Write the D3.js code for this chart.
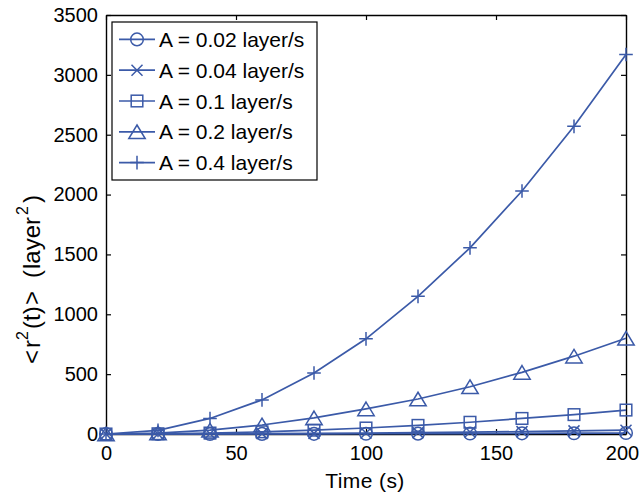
<!DOCTYPE html>
<html>
<head>
<meta charset="utf-8">
<script src="https://cdn.jsdelivr.net/npm/d3@7"></script>
<style>
  html, body { margin: 0; padding: 0; background: #fff; }
  svg { display: block; }
  text { font-family: "Liberation Sans", Arial, Helvetica, sans-serif; fill: #000; }
</style>
</head>
<body>
<svg id="chart" width="639" height="499"></svg>
<script>
// Sampling times (s)
const time = [0, 20, 40, 60, 80, 100, 120, 140, 160, 180, 200];

// Mean-square displacement <r^2(t)> (layer^2) for each advance rate A
const msdA002 = [0, 0.1, 0.3, 0.7, 1.3, 2, 2.9, 3.9, 5.1, 6.5, 8];
const msdA004 = [0, 0.3, 1.3, 3, 5, 8, 11.5, 16, 20, 26, 32];
const msdA01  = [0, 2, 8, 18, 32, 50, 72, 98, 130, 162, 200];
const msdA02  = [0, 8, 32, 75, 135, 210, 292, 395, 515, 650, 800];
const msdA04  = [0, 30, 130, 285, 510, 795, 1150, 1555, 2030, 2570, 3170];

const seriesNames = ["A = 0.02 layer/s", "A = 0.04 layer/s", "A = 0.1 layer/s", "A = 0.2 layer/s", "A = 0.4 layer/s"];
const seriesMarkers = ["circle", "x", "square", "triangle", "plus"];

const xTicks = [0, 50, 100, 150, 200];
const yTicks = [0, 500, 1000, 1500, 2000, 2500, 3000, 3500];

const series = [msdA002, msdA004, msdA01, msdA02, msdA04].map((vals, i) => ({
  name: seriesNames[i],
  marker: seriesMarkers[i],
  points: vals.map((v, j) => ({ t: time[j], v }))
}));

const color = "#3b5aa8";
const svg = d3.select("#chart");

const plotLeft = 106, plotRight = 626, plotTop = 15, plotBottom = 434;
const x = d3.scaleLinear().domain([0, 200]).range([plotLeft, plotRight]);
const y = d3.scaleLinear().domain([0, 3500]).range([plotBottom, plotTop]);

const fontSize = 20;

// Axes box with inward ticks on all four sides
const tickLen = 5;
const axisG = svg.append("g");
const fmt = d3.format("d");

const axBottom = d3.axisBottom(x).tickValues(xTicks).tickFormat(fmt).tickSize(-tickLen).tickSizeOuter(0).tickPadding(12);
const axTop = d3.axisTop(x).tickValues(xTicks).tickSize(-tickLen).tickSizeOuter(0).tickFormat("");
const axLeft = d3.axisLeft(y).tickValues(yTicks).tickFormat(fmt).tickSize(-tickLen).tickSizeOuter(0).tickPadding(8);
const axRight = d3.axisRight(y).tickValues(yTicks).tickSize(-tickLen).tickSizeOuter(0).tickFormat("");

function styleAxis(g) {
  g.selectAll(".domain").attr("stroke", "#000").attr("stroke-width", 1.4);
  g.selectAll(".tick line").attr("stroke", "#000").attr("stroke-width", 1.2);
  g.selectAll(".tick text").attr("font-size", fontSize)
    .attr("font-family", '"Liberation Sans", Arial, sans-serif').attr("fill", "#000");
}

const gx = axisG.append("g").attr("transform", `translate(0,${plotBottom})`).call(axBottom).call(styleAxis);
// keep the last x label inside the canvas
gx.selectAll(".tick text").filter(d => d === 200).attr("dx", -4);
axisG.append("g").attr("transform", `translate(0,${plotTop})`).call(axTop).call(styleAxis);
axisG.append("g").attr("transform", `translate(${plotLeft},0)`).call(axLeft).call(styleAxis);
axisG.append("g").attr("transform", `translate(${plotRight},0)`).call(axRight).call(styleAxis);

// Marker shapes, centred at origin
function drawMarker(g, type) {
  const sw = 1.5;
  if (type === "circle") {
    g.append("circle").attr("r", 6.3).attr("fill", "none").attr("stroke", color).attr("stroke-width", sw);
  } else if (type === "x") {
    const s = 5.5;
    g.append("path").attr("d", `M${-s},${-s}L${s},${s}M${-s},${s}L${s},${-s}`)
      .attr("stroke", color).attr("stroke-width", sw).attr("fill", "none");
  } else if (type === "square") {
    const s = 5.8;
    g.append("rect").attr("x", -s).attr("y", -s).attr("width", 2 * s).attr("height", 2 * s)
      .attr("fill", "none").attr("stroke", color).attr("stroke-width", sw);
  } else if (type === "triangle") {
    const w = 8.2, h = 6.8;
    g.append("path").attr("d", `M0,${-h}L${w},${h}L${-w},${h}Z`)
      .attr("fill", "none").attr("stroke", color).attr("stroke-width", sw);
  } else if (type === "plus") {
    const s = 6.8;
    g.append("path").attr("d", `M${-s},0L${s},0M0,${-s}L0,${s}`)
      .attr("stroke", color).attr("stroke-width", sw).attr("fill", "none");
  }
}

const line = d3.line().x(d => x(d.t)).y(d => y(d.v));
const plotG = svg.append("g");

series.forEach(s => {
  const g = plotG.append("g");
  g.append("path").datum(s.points).attr("d", line)
    .attr("fill", "none").attr("stroke", color).attr("stroke-width", 1.7);
  g.selectAll("g.mk").data(s.points).join("g").attr("class", "mk")
    .attr("transform", d => `translate(${x(d.t)},${y(d.v)})`)
    .each(function () { drawMarker(d3.select(this), s.marker); });
});

// Axis titles
svg.append("text").attr("x", 365).attr("y", 488)
  .attr("text-anchor", "middle").attr("font-size", 21).attr("letter-spacing", 0.4).text("Time (s)");

// y title set piece by piece (TeX-style spacing, raised exponents)
const ylSize = 24;
const yl = svg.append("text")
  .attr("transform", `translate(40,364) rotate(-90)`)
  .attr("font-size", ylSize);
const ylPieces = [
  { s: "<", x: 0, sup: false },
  { s: "r", x: 16, sup: false },
  { s: "2", x: 24, sup: true },
  { s: "(t)", x: 35, sup: false },
  { s: ">", x: 59, sup: false },
  { s: "(", x: 86, sup: false },
  { s: "layer", x: 95, sup: false },
  { s: "2", x: 149, sup: true },
  { s: ")", x: 161, sup: false }
];
ylPieces.forEach(p => {
  yl.append("tspan").attr("x", p.x).attr("y", p.sup ? -12 : 0)
    .attr("font-size", p.sup ? 16 : ylSize).text(p.s);
});

// Legend
const lg = svg.append("g");
const lgX = 112, lgY = 22, lgW = 205, lgH = 158;
lg.append("rect").attr("x", lgX).attr("y", lgY).attr("width", lgW).attr("height", lgH)
  .attr("fill", "#fff").attr("stroke", "#000").attr("stroke-width", 1.2);
const rowH = 30.8;
series.forEach((s, i) => {
  const cy = lgY + 17.4 + i * rowH;
  const row = lg.append("g");
  row.append("line").attr("x1", 119).attr("x2", 155).attr("y1", cy).attr("y2", cy)
    .attr("stroke", color).attr("stroke-width", 1.7);
  drawMarker(row.append("g").attr("transform", `translate(137,${cy})`), s.marker);
  row.append("text").attr("x", 159).attr("y", cy + 7.5).attr("font-size", 21).text(s.name);
});
</script>
</body>
</html>
